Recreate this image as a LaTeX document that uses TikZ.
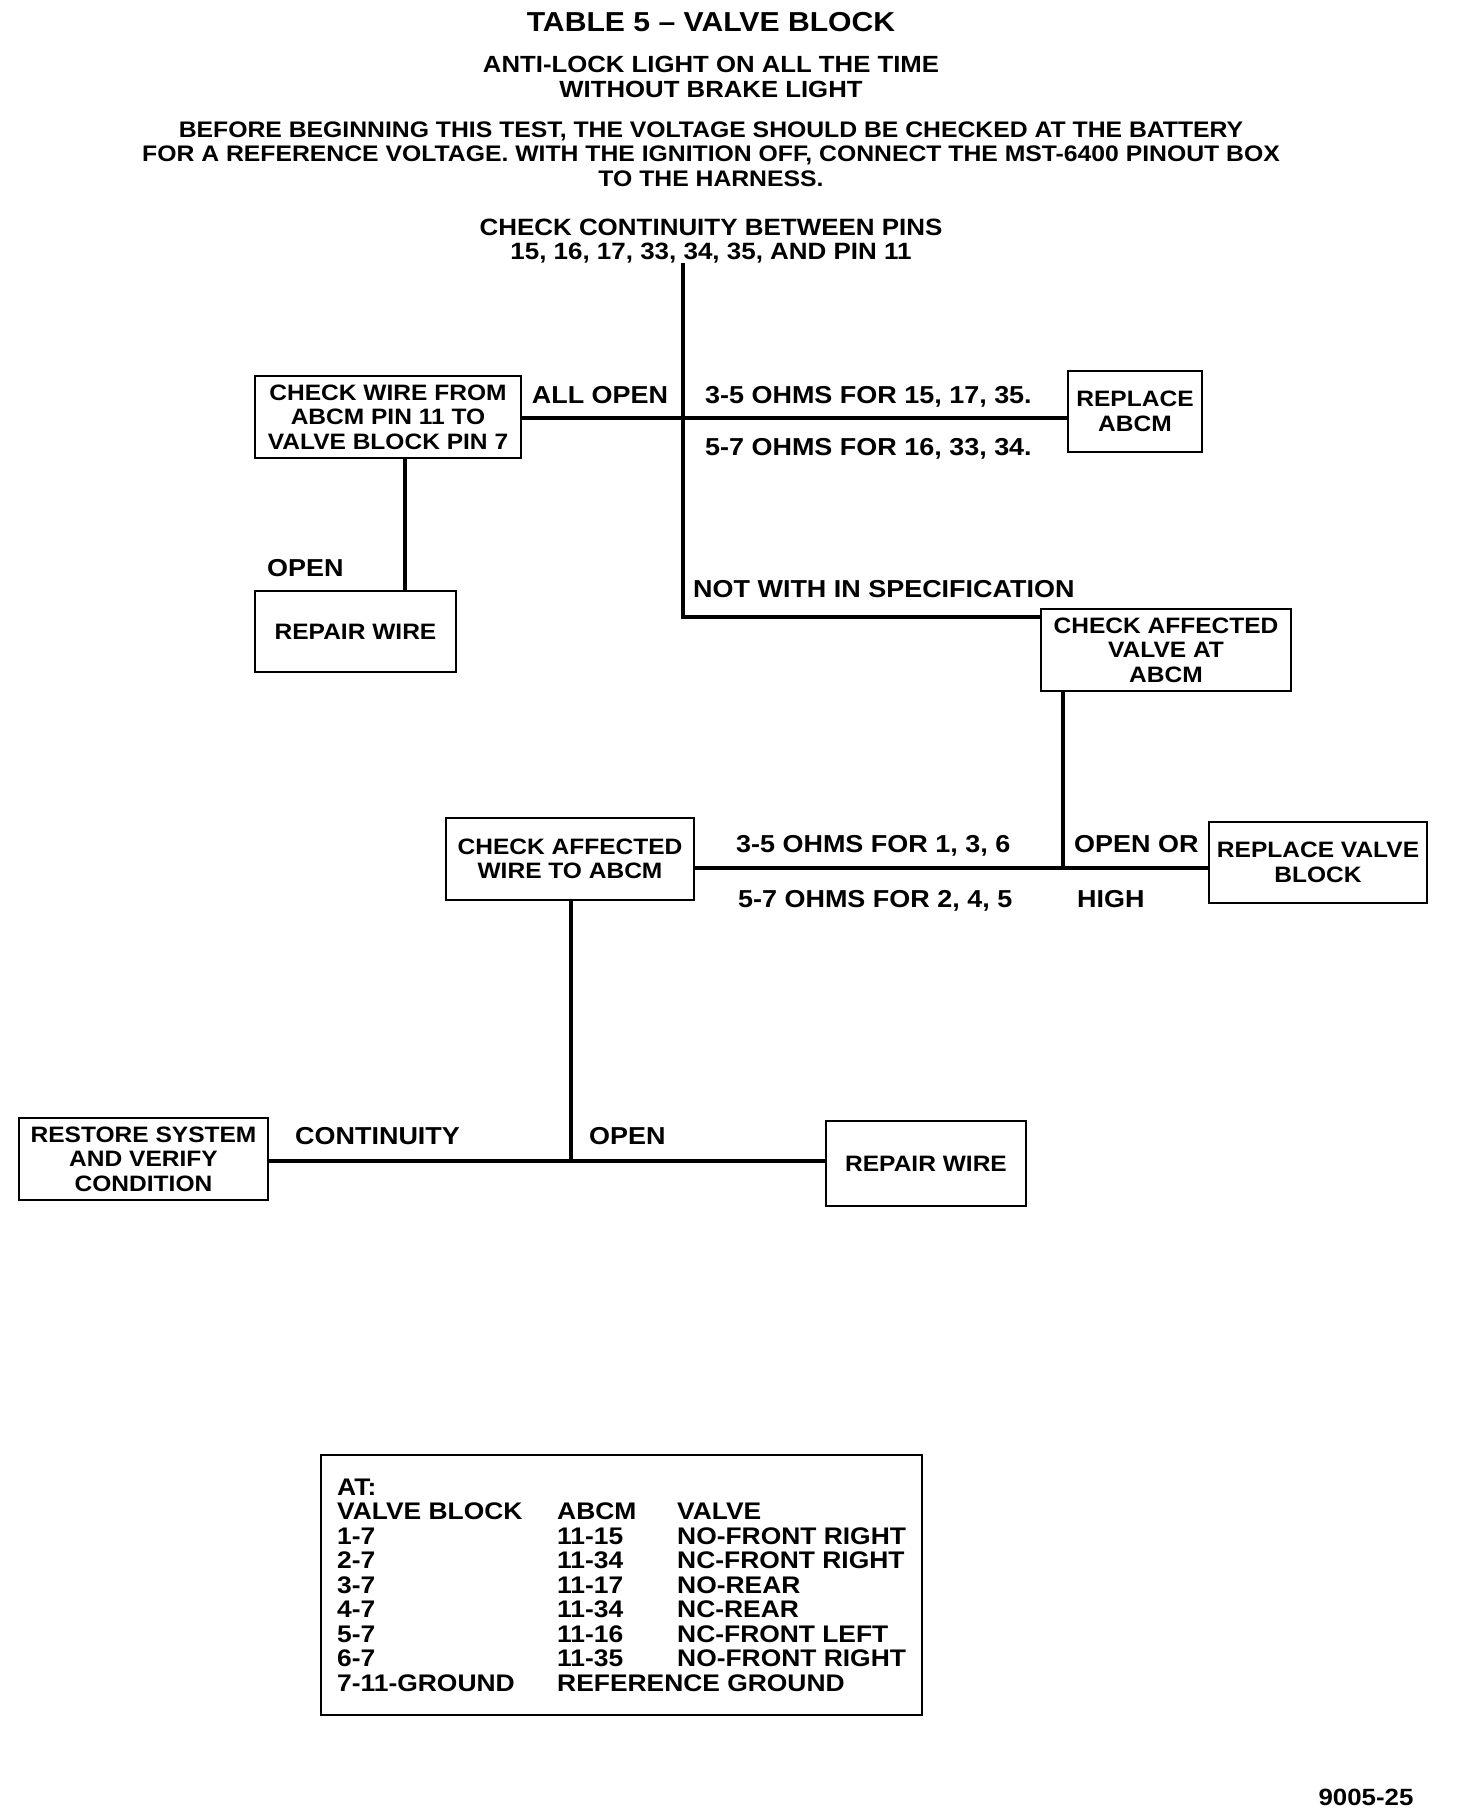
\documentclass[tikz,border=0pt]{standalone}
\usepackage{fontspec}
\setmainfont{Liberation Sans}[FakeStretch=1.1]
\begin{document}
\begin{tikzpicture}[x=1pt,y=-1pt,
  every node/.style={font=\bfseries\fontsize{22.3}{24.5}\selectfont},
  box/.style={draw, line width=2.2pt, inner sep=0pt, align=center},
  lbl/.style={anchor=west, inner sep=0pt, text height=16pt, text depth=0pt, font=\bfseries\fontsize{24.5}{24.5}\selectfont},
  leglbl/.style={lbl, font=\bfseries\fontsize{24}{24.5}\selectfont},
  conn/.style={line width=3.4pt},
  hdr/.style={align=center, inner sep=0pt}]
\useasboundingbox[fill=white] (0,0) rectangle (1472,1814);

% header
\node[hdr, font=\bfseries\fontsize{27.4}{30}\selectfont] (title) at (711,22) {TABLE 5 -- VALVE BLOCK};
\node[hdr, font=\bfseries\fontsize{23.4}{24.3}\selectfont] (sub) at (711,77) {ANTI-LOCK LIGHT ON ALL THE TIME\\WITHOUT BRAKE LIGHT};
\node[hdr, font=\bfseries\fontsize{22.5}{24.3}\selectfont] (para) at (711,154) {BEFORE BEGINNING THIS TEST, THE VOLTAGE SHOULD BE CHECKED AT THE BATTERY\\FOR A REFERENCE VOLTAGE. WITH THE IGNITION OFF, CONNECT THE MST-6400 PINOUT BOX\\TO THE HARNESS.};
\node[hdr, font=\bfseries\fontsize{23.6}{24.3}\selectfont] (cc) at (711,241) {CHECK CONTINUITY BETWEEN PINS\\15, 16, 17, 33, 34, 35, AND PIN 11};

% boxes
\node[box, minimum width=266, minimum height=82] (b1) at (388,417) {CHECK WIRE FROM\\ABCM PIN 11 TO\\VALVE BLOCK PIN 7};
\node[box, minimum width=134, minimum height=81] (rabcm) at (1135,411.5) {REPLACE\\ABCM};
\node[box, minimum width=201, minimum height=81] (rw1) at (355.5,631.5) {REPAIR WIRE};
\node[box, minimum width=250, minimum height=82] (cav) at (1166,650) {CHECK AFFECTED\\VALVE AT\\ABCM};
\node[box, minimum width=248, minimum height=82] (caw) at (570,859) {CHECK AFFECTED\\WIRE TO ABCM};
\node[box, minimum width=218, minimum height=81] (rvb) at (1318,862.5) {REPLACE VALVE\\BLOCK};
\node[box, minimum width=249, minimum height=82] (rs) at (143.5,1159) {RESTORE SYSTEM\\AND VERIFY\\CONDITION};
\node[box, minimum width=200, minimum height=85] (rw2) at (926,1163.5) {REPAIR WIRE};

% junctions
\coordinate (j1) at (683,418);
\coordinate (j2) at (683,617);
\coordinate (j3) at (1063,868);
\coordinate (j4) at (571,1161);
\coordinate (t1) at (405,458);

% connectors
\draw[conn] (j1 |- cc.south) -- (j2) -- (cav.west |- j2);
\draw[conn] (b1.east |- j1) -- (rabcm.west |- j1);
\draw[conn] (t1) -- (t1 |- rw1.north);
\draw[conn] (j3 |- cav.south) -- (j3);
\draw[conn] (caw.east |- j3) -- (rvb.west |- j3);
\draw[conn] (j4 |- caw.south) -- (j4);
\draw[conn] (rs.east |- j4) -- (rw2.west |- j4);

% labels
\node[lbl, anchor=center] (l1) at (600,395) {ALL OPEN};
\node[lbl] (l2) at (705,395) {3-5 OHMS FOR 15, 17, 35.};
\node[lbl] (l3) at (705,447) {5-7 OHMS FOR 16, 33, 34.};
\node[lbl] (l4) at (267,568) {OPEN};
\node[lbl] (l5) at (693,589) {NOT WITH IN SPECIFICATION};
\node[lbl] (l6) at (736,844) {3-5 OHMS FOR 1, 3, 6};
\node[lbl] (l7) at (738,899) {5-7 OHMS FOR 2, 4, 5};
\node[lbl] (l8) at (1074,844) {OPEN OR};
\node[lbl] (l9) at (1077,899) {HIGH};
\node[lbl] (l10) at (295,1136) {CONTINUITY};
\node[lbl] (l11) at (589,1136) {OPEN};

% legend
\node[draw, line width=2.2pt, minimum width=601, minimum height=260, inner sep=0pt] (leg) at (621.5,1585) {};
\node[leglbl] (a0) at (337,1487) {AT:};
\node[leglbl] (a1) at (337,1511) {VALVE BLOCK};
\node[leglbl] (b1x) at (557,1511) {ABCM};
\node[leglbl] (c1) at (677,1511) {VALVE};
\node[leglbl] (a2) at (337,1536) {1-7};
\node[leglbl] (b2) at (557,1536) {11-15};
\node[leglbl] (c2) at (677,1536) {NO-FRONT RIGHT};
\node[leglbl] (a3) at (337,1560) {2-7};
\node[leglbl] (b3) at (557,1560) {11-34};
\node[leglbl] (c3) at (677,1560) {NC-FRONT RIGHT};
\node[leglbl] (a4) at (337,1585) {3-7};
\node[leglbl] (b4) at (557,1585) {11-17};
\node[leglbl] (c4) at (677,1585) {NO-REAR};
\node[leglbl] (a5) at (337,1609) {4-7};
\node[leglbl] (b5) at (557,1609) {11-34};
\node[leglbl] (c5) at (677,1609) {NC-REAR};
\node[leglbl] (a6) at (337,1634) {5-7};
\node[leglbl] (b6) at (557,1634) {11-16};
\node[leglbl] (c6) at (677,1634) {NC-FRONT LEFT};
\node[leglbl] (a7) at (337,1658) {6-7};
\node[leglbl] (b7) at (557,1658) {11-35};
\node[leglbl] (c7) at (677,1658) {NO-FRONT RIGHT};
\node[leglbl] (a8) at (337,1683) {7-11-GROUND};
\node[leglbl] (b8) at (557,1683) {REFERENCE GROUND};

\node[hdr, font=\bfseries\fontsize{23.5}{24.5}\selectfont] (fig) at (1366,1797) {9005-25};
\end{tikzpicture}
\end{document}
